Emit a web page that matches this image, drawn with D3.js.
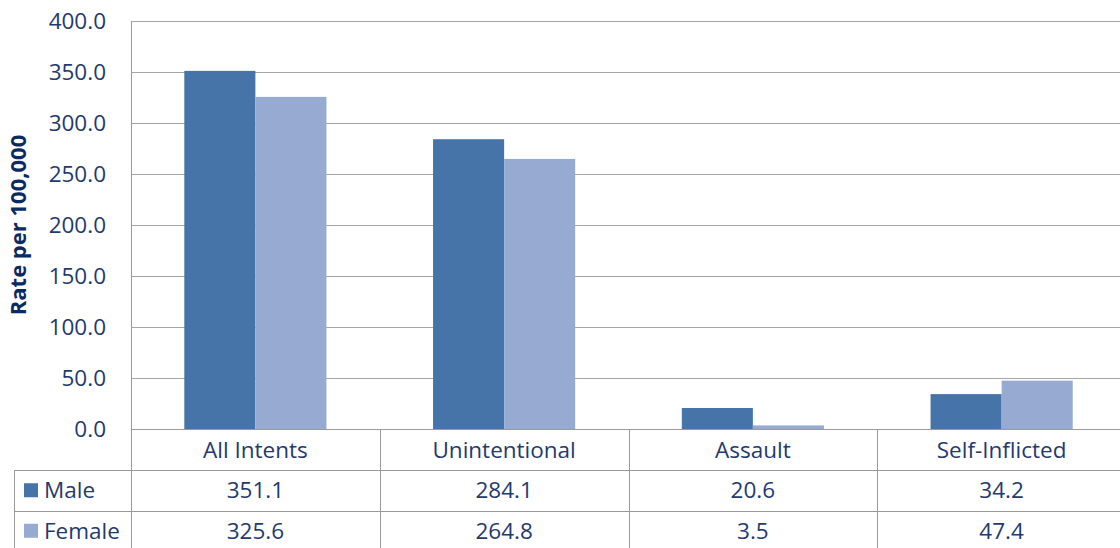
<!DOCTYPE html>
<html>
<head>
<meta charset="utf-8">
<script src="https://cdn.jsdelivr.net/npm/d3@7"></script>
<style>
  body { margin: 0; background: #fff; }
  text { font-family: "Open Sans", "Noto Sans", sans-serif; fill: #1f3a6e; }
</style>
</head>
<body>
<div id="vis"></div>
<script>
// chart data
let categories = ['All Intents', 'Unintentional', 'Assault', 'Self-Inflicted'];
let seriesNames = ['Male', 'Female'];
let maleValues = [351.1, 284.1, 20.6, 34.2];
let femaleValues = [325.6, 264.8, 3.5, 47.4];
let yTicks = [0, 50, 100, 150, 200, 250, 300, 350, 400];

let colors = ['#4674a8', '#97abd2'];
let series = [maleValues, femaleValues];

let W = 1120, H = 548;
let margin = { top: 21, left: 131, right: -6, bottom: 119 };
let tableLeft = 14;
let rowH = 40.5;
let fontSize = '22.5px';

let svg = d3.select('#vis')
  .append('svg')
  .attr('width', W)
  .attr('height', H);

let x = d3.scaleBand()
  .domain(categories)
  .range([margin.left, W - margin.right])
  .paddingInner(0)
  .paddingOuter(0);

let xs = d3.scaleBand()
  .domain(seriesNames)
  .range([0, x.bandwidth()])
  .paddingInner(0)
  .paddingOuter(0.75);

let y = d3.scaleLinear()
  .domain([0, 400])
  .range([H - margin.bottom, margin.top]);

// gridlines
svg.append('g')
  .selectAll('line')
  .data(yTicks.filter(d => d > 0))
  .join('line')
  .attr('x1', margin.left)
  .attr('x2', W)
  .attr('y1', d => Math.round(y(d)) + 0.5)
  .attr('y2', d => Math.round(y(d)) + 0.5)
  .attr('stroke', '#a6a6a6')
  .attr('stroke-width', 1);

// y tick labels
svg.append('g')
  .selectAll('text')
  .data(yTicks)
  .join('text')
  .attr('x', 106)
  .attr('y', d => y(d))
  .attr('dy', '0.35em')
  .attr('text-anchor', 'end')
  .style('font-size', fontSize)
  .text(d => d.toFixed(1));

// bars
seriesNames.forEach((name, si) => {
  svg.append('g')
    .selectAll('rect')
    .data(categories)
    .join('rect')
    .attr('x', c => x(c) + xs(name))
    .attr('y', (c, i) => y(series[si][i]))
    .attr('width', xs.bandwidth())
    .attr('height', (c, i) => y(0) - y(series[si][i]))
    .attr('fill', colors[si]);
});

// y axis title
svg.append('text')
  .attr('transform', 'translate(18,' + ((margin.top + y(0)) / 2) + ') rotate(-90)')
  .attr('text-anchor', 'middle')
  .attr('dy', '0.35em')
  .style('font-size', '22px')
  .style('font-weight', 'bold')
  .style('fill', '#0b2a63')
  .text('Rate per 100,000');

// data table
let y0 = Math.round(y(0)) + 0.5;
let lineColor = '#9a9a9a';
let g = svg.append('g');

// horizontal lines
g.append('line').attr('x1', margin.left).attr('x2', W).attr('y1', y0).attr('y2', y0)
  .attr('stroke', lineColor);
[1, 2].forEach(r => {
  g.append('line')
    .attr('x1', tableLeft).attr('x2', W)
    .attr('y1', Math.round(y0 + r * rowH) + 0.5).attr('y2', Math.round(y0 + r * rowH) + 0.5)
    .attr('stroke', lineColor);
});
// vertical lines
g.append('line').attr('x1', tableLeft + 0.5).attr('x2', tableLeft + 0.5)
  .attr('y1', y0 + rowH).attr('y2', H).attr('stroke', lineColor);
categories.forEach(c => {
  let xx = Math.round(x(c)) + 0.5;
  g.append('line').attr('x1', xx).attr('x2', xx)
    .attr('y1', c === categories[0] ? margin.top : y0).attr('y2', H)
    .attr('stroke', lineColor);
});

// category labels
g.selectAll('.cat')
  .data(categories)
  .join('text')
  .attr('class', 'cat')
  .attr('x', c => x(c) + x.bandwidth() / 2)
  .attr('y', y0 + rowH / 2)
  .attr('dy', '0.35em')
  .attr('text-anchor', 'middle')
  .style('font-size', fontSize)
  .text(c => c);

// rows
seriesNames.forEach((name, si) => {
  let ry = y0 + rowH * (si + 1) + rowH / 2;
  g.append('rect')
    .attr('x', 24).attr('y', ry - 7)
    .attr('width', 14).attr('height', 14)
    .attr('fill', colors[si]);
  g.append('text')
    .attr('x', 44).attr('y', ry)
    .attr('dy', '0.35em')
    .style('font-size', fontSize)
    .text(name);
  g.selectAll('.v' + si)
    .data(categories)
    .join('text')
    .attr('class', 'v' + si)
    .attr('x', c => x(c) + x.bandwidth() / 2)
    .attr('y', ry)
    .attr('dy', '0.35em')
    .attr('text-anchor', 'middle')
    .style('font-size', fontSize)
    .text((c, i) => series[si][i].toFixed(1));
});
</script>
</body>
</html>
